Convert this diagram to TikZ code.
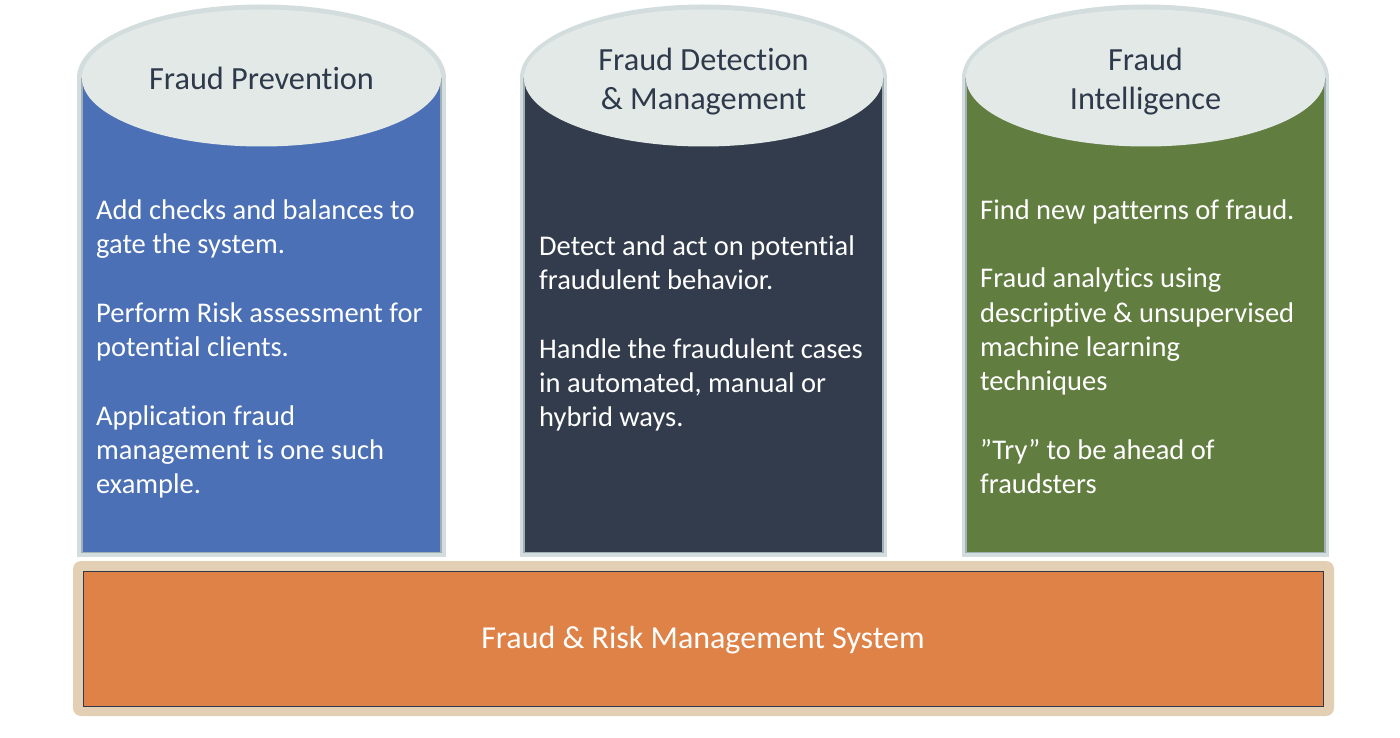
\documentclass[tikz,border=0pt]{standalone}
\usepackage{fontspec}
\setmainfont{Carlito}[Ligatures=NoCommon]
\usetikzlibrary{positioning,shapes.geometric}
\definecolor{colPrevention}{HTML}{4B70B6}
\definecolor{colDetection}{HTML}{333C4C}
\definecolor{colIntelligence}{HTML}{627D40}
\definecolor{colSystem}{HTML}{DE8247}
\definecolor{colCap}{HTML}{E3E9E6}
\definecolor{colTitle}{HTML}{2E3A4B}
\definecolor{colGlow}{HTML}{D3DDDD}
\definecolor{colEdge}{HTML}{9EB0B6}
\definecolor{colHalo}{HTML}{E2CFB4}
\begin{document}
\begin{tikzpicture}[
        x=1pt, y=-1pt,
        pillarBody/.style={rectangle, anchor=north, inner sep=0pt, minimum width=359pt, minimum height=474pt, draw=colEdge, line width=1.2pt},
        pillarCap/.style={ellipse, inner sep=0pt, minimum width=359pt, minimum height=137pt, fill=colCap},
        pillarGlow/.style={fill=colGlow},
        capTitle/.style={align=center, text=colTitle, font=\fontsize{32.3}{39}\selectfont},
        pillarText/.style={anchor=north west, align=left, inner sep=0pt, text=white, font=\fontsize{28.5}{34.3}\selectfont},
        baseBox/.style={rectangle, inner sep=0pt, minimum width=1240pt, minimum height=135pt, fill=colSystem, draw=colTitle, line width=1pt},
        baseHalo/.style={fill=colHalo, rounded corners=8pt}
    ]
        \useasboundingbox (0,0) rectangle (1400,738);

        % Halos behind everything
        \fill[baseHalo] (73,561) rectangle (1334,716);
        \fill[pillarGlow] (77,78) rectangle (446,557);
        \fill[pillarGlow] (261.5,78) ellipse [x radius=184.5, y radius=73.5];
        \fill[pillarGlow] (520,78) rectangle (887,557);
        \fill[pillarGlow] (703.5,78) ellipse [x radius=183.5, y radius=73.5];
        \fill[pillarGlow] (962,78) rectangle (1329,557);
        \fill[pillarGlow] (1145.5,78) ellipse [x radius=183.5, y radius=73.5];

        % Pillar bodies
        \node[pillarBody, fill=colPrevention] (prevention) at (261.5,78) {};
        \node[pillarBody, fill=colDetection] (detection) at (703.5,78) {};
        \node[pillarBody, fill=colIntelligence] (intelligence) at (1145.5,78) {};

        % Caps with titles
        \node[pillarCap] (capPrevention) at (prevention.north) {};
        \node[capTitle] (titlePrevention) at (capPrevention.center) {Fraud Prevention};
        \node[pillarCap] (capDetection) at (detection.north) {};
        \node[capTitle, yshift=-3.5pt] (titleDetection) at (capDetection.center) {Fraud Detection\\\& Management};
        \node[pillarCap] (capIntelligence) at (intelligence.north) {};
        \node[capTitle, yshift=-3.5pt] (titleIntelligence) at (capIntelligence.center) {Fraud\\Intelligence};

        % Pillar texts (first line baseline = top + strut height)
        \node[pillarText] (textPrevention) at (96,195) {\strut Add checks and balances to\\gate the system.\\[34.3pt]Perform Risk assessment for\\potential clients.\\[34.3pt]Application fraud\\management is one such\\example.};
        \node[pillarText] (textDetection) at (539,231) {\strut Detect and act on potential\\fraudulent behavior.\\[34.3pt]Handle the fraudulent cases\\in automated, manual or\\hybrid ways.};
        \node[pillarText] (textIntelligence) at (980,195) {\strut Find new patterns of fraud.\\[34.3pt]Fraud analytics using\\descriptive \& unsupervised\\machine learning\\techniques\\[34.3pt]”Try” to be ahead of\\fraudsters};

        % Base system
        \node[baseBox] (system) at (703,638.5) {};
        \node[text=white, font=\fontsize{32}{38}\selectfont, yshift=-2pt] (systemTitle) at (system.center) {Fraud \& Risk Management System};
    \end{tikzpicture}
\end{document}
